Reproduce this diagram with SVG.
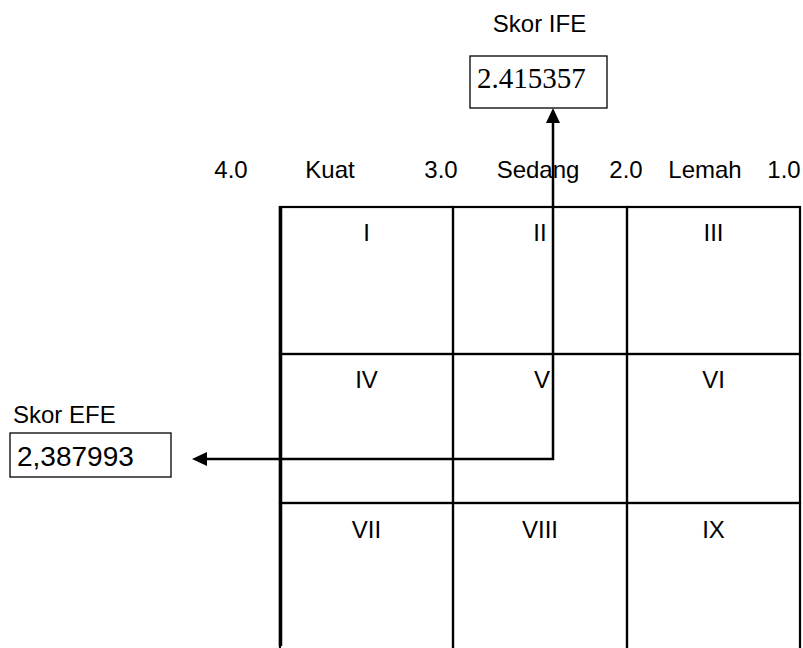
<svg xmlns="http://www.w3.org/2000/svg" width="803" height="648" viewBox="0 0 803 648">
<style>
.lbl{font-family:"Liberation Sans",Arial,sans-serif;font-size:24px;fill:#000}
.cell{fill:none;stroke:#000;stroke-width:2.2}
.box{fill:#fff;stroke:#000;stroke-width:1.3}
.num{font-family:"Liberation Serif","Times New Roman",serif;font-size:29px;fill:#000}
.conn{fill:none;stroke:#000;stroke-width:2.5}
</style>
<defs>
<marker id="arr" markerUnits="userSpaceOnUse" markerWidth="15" markerHeight="14" refX="11" refY="7" orient="auto-start-reverse">
<path d="M0,0 L15,7 L0,14 z" fill="#000"/>
</marker>
</defs>
<rect width="803" height="648" fill="#fff"/>

<g id="axis-labels" class="lbl" text-anchor="middle">
<text x="231" y="178">4.0</text>
<text x="330" y="178">Kuat</text>
<text x="441" y="178">3.0</text>
<text x="538" y="178">Sedang</text>
<text x="626" y="178">2.0</text>
<text x="705" y="178">Lemah</text>
<text x="784" y="178">1.0</text>
</g>

<g id="cell-I"><rect class="cell" x="280" y="207" width="173" height="147"/><text class="lbl" x="366.5" y="241" text-anchor="middle">I</text></g>
<g id="cell-II"><rect class="cell" x="453" y="207" width="174" height="147"/><text class="lbl" x="540" y="241" text-anchor="middle">II</text></g>
<g id="cell-III"><rect class="cell" x="627" y="207" width="173" height="147"/><text class="lbl" x="713.5" y="241" text-anchor="middle">III</text></g>
<g id="cell-IV"><rect class="cell" x="280" y="354" width="173" height="149"/><text class="lbl" x="366.5" y="388" text-anchor="middle">IV</text></g>
<g id="cell-V"><rect class="cell" x="453" y="354" width="174" height="149"/><text class="lbl" x="542" y="388" text-anchor="middle">V</text></g>
<g id="cell-VI"><rect class="cell" x="627" y="354" width="173" height="149"/><text class="lbl" x="713.5" y="388" text-anchor="middle">VI</text></g>
<g id="cell-VII"><rect class="cell" x="280" y="503" width="173" height="150"/><text class="lbl" x="366.5" y="538" text-anchor="middle">VII</text></g>
<g id="cell-VIII"><rect class="cell" x="453" y="503" width="174" height="150"/><text class="lbl" x="540" y="538" text-anchor="middle">VIII</text></g>
<g id="cell-IX"><rect class="cell" x="627" y="503" width="173" height="150"/><text class="lbl" x="713.5" y="538" text-anchor="middle">IX</text></g>
<line x1="280.5" y1="206" x2="280.5" y2="646" stroke="#000" stroke-width="3.5"/>

<g id="ife">
<text class="lbl" x="539.5" y="32" text-anchor="middle">Skor IFE</text>
<rect class="box" x="470" y="56" width="137" height="52"/>
<text class="num" x="477" y="88">2.415357</text>
</g>

<g id="efe">
<text class="lbl" x="13" y="423">Skor EFE</text>
<rect class="box" x="10" y="433" width="161" height="44"/>
<text class="lbl" x="17" y="466" style="font-size:28px">2,387993</text>
</g>

<g id="connectors">
<path class="conn" d="M196,459 H553 V112" marker-start="url(#arr)" marker-end="url(#arr)"/>
</g>
</svg>
